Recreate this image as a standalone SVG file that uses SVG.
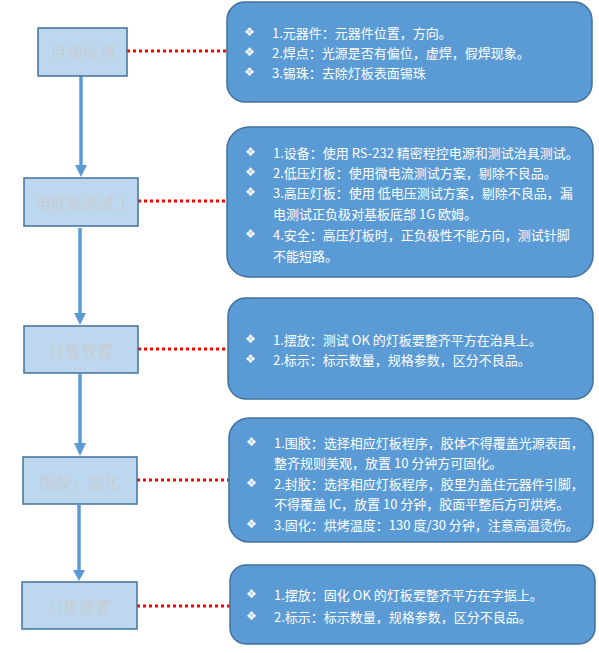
<svg xmlns="http://www.w3.org/2000/svg" width="599" height="653" viewBox="0 0 599 653">
<style>
.node{fill:#BDD7EE;stroke:#41719C;stroke-width:1.5}
.ntxt{font-family:"Noto Sans CJK SC",sans-serif;font-size:16px;font-weight:300;fill:#CACACA;text-anchor:middle;dominant-baseline:central}
.card{fill:#5B9BD5;stroke:#41719C;stroke-width:1.5}
.t{font-family:"Noto Sans CJK SC",sans-serif;font-size:13px;fill:#FFFFFF;dominant-baseline:central}
.b{font-family:"DejaVu Sans",sans-serif;font-size:12px;fill:#FFFFFF;dominant-baseline:central}
.flow{stroke:#5B9BD5;stroke-width:3.5;fill:none}
.dot{stroke:#FF0000;stroke-width:3;stroke-dasharray:3 3;fill:none}
</style>
<g id="connectors">
<line class="flow" x1="81" y1="76" x2="81" y2="166"/>
<path d="M75,165 L87,165 L81,177 Z" fill="#5B9BD5"/>
<line class="flow" x1="80" y1="228" x2="80" y2="314"/>
<path d="M74,313 L86,313 L80,325 Z" fill="#5B9BD5"/>
<line class="flow" x1="80" y1="374" x2="80" y2="444"/>
<path d="M74,443 L86,443 L80,456 Z" fill="#5B9BD5"/>
<line class="flow" x1="79" y1="505" x2="79" y2="571"/>
<path d="M73,570 L85,570 L79,581 Z" fill="#5B9BD5"/>
<line class="dot" x1="127" y1="51" x2="227" y2="51"/>
<line class="dot" x1="138" y1="201" x2="227" y2="201"/>
<line class="dot" x1="138" y1="349" x2="228" y2="349"/>
<line class="dot" x1="137" y1="480" x2="229" y2="480"/>
<line class="dot" x1="137" y1="606" x2="230" y2="606"/>
</g>
<g id="n1">
<rect class="node" x="38" y="28" width="89" height="48"/>
<text class="ntxt" x="82.5" y="52">目视检测</text>
</g>
<g id="n2">
<rect class="node" x="24" y="178" width="114" height="48"/>
<text class="ntxt" x="81" y="202">电性能测试 1</text>
</g>
<g id="n3">
<rect class="node" x="24" y="326" width="114" height="47"/>
<text class="ntxt" x="81" y="350">灯板放置</text>
</g>
<g id="n4">
<rect class="node" x="23" y="457" width="114" height="47"/>
<text class="ntxt" x="80" y="481">围胶，固化</text>
</g>
<g id="n5">
<rect class="node" x="22" y="582" width="115" height="47"/>
<text class="ntxt" x="79.5" y="606">灯板放置</text>
</g>
<g id="c1">
<rect class="card" x="227" y="2" width="365" height="100" rx="18"/>
<text class="b" x="244" y="32">❖</text><text class="t" x="272" y="32">1.元器件：元器件位置，方向。</text>
<text class="b" x="244" y="52">❖</text><text class="t" x="272" y="52">2.焊点：光源是否有偏位，虚焊，假焊现象。</text>
<text class="b" x="244" y="72">❖</text><text class="t" x="272" y="72">3.锡珠：去除灯板表面锡珠</text>
</g>
<g id="c2">
<rect class="card" x="227" y="127" width="366" height="150" rx="22"/>
<text class="b" x="245" y="152">❖</text><text class="t" x="273" y="152">1.设备：使用 RS-232 精密程控电源和测试治具测试。</text>
<text class="b" x="245" y="172">❖</text><text class="t" x="273" y="172">2.低压灯板：使用微电流测试方案，剔除不良品。</text>
<text class="b" x="245" y="192">❖</text><text class="t" x="273" y="192">3.高压灯板：使用 低电压测试方案，剔除不良品，漏</text>
<text class="t" x="273" y="213">电测试正负极对基板底部 1G 欧姆。</text>
<text class="b" x="245" y="234">❖</text><text class="t" x="273" y="234">4.安全：高压灯板时，正负极性不能方向，测试针脚</text>
<text class="t" x="273" y="255">不能短路。</text>
</g>
<g id="c3">
<rect class="card" x="228" y="298" width="365" height="101" rx="18"/>
<text class="b" x="245" y="339">❖</text><text class="t" x="273" y="339">1.摆放：测试 OK 的灯板要整齐平方在治具上。</text>
<text class="b" x="245" y="359">❖</text><text class="t" x="273" y="359">2.标示：标示数量，规格参数，区分不良品。</text>
</g>
<g id="c4">
<rect class="card" x="229" y="418" width="364" height="124" rx="20"/>
<text class="b" x="246" y="442">❖</text><text class="t" x="274" y="442">1.围胶：选择相应灯板程序，胶体不得覆盖光源表面，</text>
<text class="t" x="274" y="462">整齐规则美观，放置 10 分钟方可固化。</text>
<text class="b" x="246" y="483">❖</text><text class="t" x="274" y="483">2.封胶：选择相应灯板程序，胶里为盖住元器件引脚，</text>
<text class="t" x="274" y="503">不得覆盖 IC，放置 10 分钟，胶面平整后方可烘烤。</text>
<text class="b" x="246" y="524">❖</text><text class="t" x="274" y="524">3.固化：烘烤温度：130 度/30 分钟，注意高温烫伤。</text>
</g>
<g id="c5">
<rect class="card" x="230" y="565" width="365" height="79" rx="16"/>
<text class="b" x="246" y="594">❖</text><text class="t" x="274" y="594">1.摆放：固化 OK 的灯板要整齐平方在字据上。</text>
<text class="b" x="246" y="616">❖</text><text class="t" x="274" y="616">2.标示：标示数量，规格参数，区分不良品。</text>
</g>
</svg>
